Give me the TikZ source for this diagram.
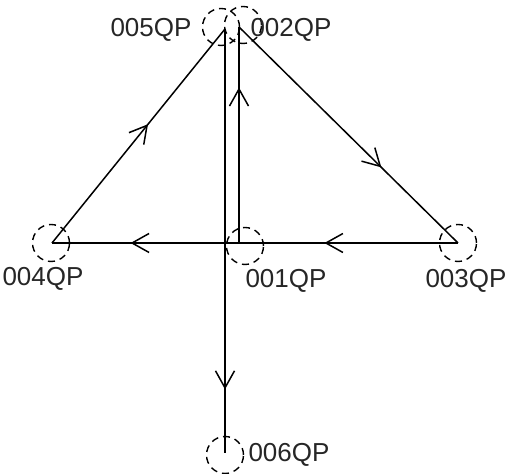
\documentclass[tikz,border=0pt]{standalone}
\usepackage{fontspec}
\setmainfont{Liberation Sans}
\usetikzlibrary{arrows.meta,decorations.markings}
\tikzset{
  punto/.style={circle,draw,dash pattern=on 3.5pt off 2.5pt,minimum size=18.5pt,inner sep=0pt,line width=0.7pt},
  etiqueta/.style={font=\fontsize{13}{15}\selectfont,text=black!85,inner sep=0pt},
  tramo/.style={line width=0.75pt,decoration={markings,mark=at position #1 with {\arrow{Straight Barb[length=8.5pt,width=9.5pt,line width=0.75pt]}}},postaction={decorate}}
}
\begin{document}
\begin{tikzpicture}[x=0.5pt,y=-0.5pt]
  \useasboundingbox (0,0) rectangle (509,474);
  % Puntos
  \coordinate (p005) at (225,29);
  \coordinate (p002) at (239,27);
  \coordinate (p004) at (52,243);
  \coordinate (p001) at (239,243);
  \coordinate (p003) at (458,243);
  \coordinate (p006) at (225,453);
  % Circulos
  \node[punto] (c005) at (221,27) {};
  \node[punto] (c002) at (243,25) {};
  \node[punto] (c004) at (51,243) {};
  \node[punto] (c001) at (245,246) {};
  \node[punto] (c003) at (458,243) {};
  \node[punto] (c006) at (225,455) {};
  % Tramos
  \draw[tramo=0.555] (p004) -- (p005);
  \draw[tramo=0.65] (p002) -- (p003);
  \draw[tramo=0.61] (p003) -- (p001);
  \draw[tramo=0.58] (p001) -- (p004);
  \draw[tramo=0.72] (p001) -- (p002);
  \draw[tramo=0.85] (p005) -- (p006);
  % Etiquetas
  \node[etiqueta] (t005) at (151,30) {005QP};
  \node[etiqueta] (t002) at (291,30) {002QP};
  \node[etiqueta] (t004) at (43,279) {004QP};
  \node[etiqueta] (t001) at (286,281) {001QP};
  \node[etiqueta] (t003) at (466,281) {003QP};
  \node[etiqueta] (t006) at (289,455) {006QP};
\end{tikzpicture}
\end{document}
